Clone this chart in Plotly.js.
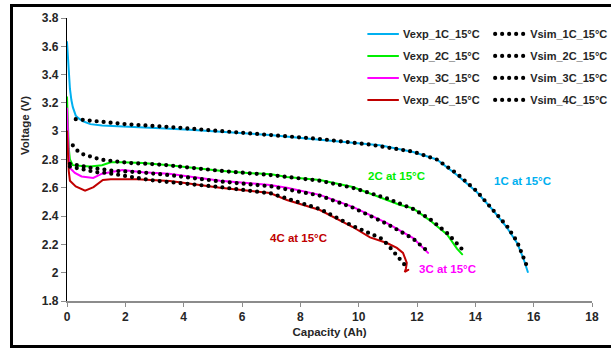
<!DOCTYPE html>
<html>
<head>
<meta charset="utf-8">
<script src="https://cdn.plot.ly/plotly-3.0.1.min.js"></script>
<style>
  html, body { margin: 0; padding: 0; background: #fff; overflow: hidden; }
  #wrap { position: relative; width: 611px; height: 348px; overflow: hidden; }
  #chart { position: absolute; left: 0; top: 0; width: 640px; height: 348px; }
  #frame { position: absolute; left: 10px; top: 4px; width: 640px; height: 338px; border: 3px solid #000; pointer-events: none; }
  .simdots path.js-line { stroke-linecap: round; }
</style>
</head>
<body>
<div id="wrap">
  <div id="chart"></div>
  <div id="frame"></div>
</div>
<script>
// Experimental curves (Capacity Ah, Voltage V)
const cap1 = [0, 0.03, 0.06, 0.1, 0.15, 0.2, 0.3, 0.4, 0.55, 0.8, 1.2, 2, 3.2, 4.2, 5.25, 6.96, 8.67, 10, 10.73, 11.87, 12.68, 13.37, 14.05, 14.6, 15.08, 15.43, 15.65, 15.8];
const v1   = [3.63, 3.5, 3.4, 3.3, 3.22, 3.17, 3.11, 3.09, 3.07, 3.05, 3.04, 3.03, 3.02, 3.01, 2.995, 2.973, 2.94, 2.915, 2.90, 2.853, 2.80, 2.69, 2.57, 2.443, 2.32, 2.21, 2.10, 2.005];

const cap2 = [0, 0.03, 0.06, 0.1, 0.2, 0.4, 0.8, 1.2, 1.5, 1.9, 2.6, 3.5, 4.3, 5.25, 6.2, 7.0, 7.54, 8.67, 9.8, 10.73, 11.4, 11.87, 12.44, 13.03, 13.37, 13.55];
const v2   = [3.24, 3.0, 2.88, 2.8, 2.76, 2.755, 2.75, 2.76, 2.78, 2.78, 2.775, 2.76, 2.74, 2.72, 2.705, 2.695, 2.676, 2.655, 2.606, 2.535, 2.48, 2.455, 2.37, 2.27, 2.17, 2.13];

const cap3 = [0, 0.03, 0.06, 0.1, 0.27, 0.5, 0.9, 1.2, 1.6, 1.9, 2.6, 3.5, 5.25, 6.96, 7.54, 8.67, 9.8, 10.97, 11.87, 12.1, 12.38];
const v3   = [3.16, 2.95, 2.82, 2.74, 2.705, 2.68, 2.67, 2.70, 2.715, 2.725, 2.71, 2.70, 2.65, 2.62, 2.60, 2.55, 2.465, 2.35, 2.245, 2.2, 2.14];

const cap4 = [0, 0.03, 0.06, 0.1, 0.3, 0.62, 0.91, 1.23, 1.5, 2.4, 3.53, 5.25, 6.96, 7.54, 8.67, 9.8, 10.39, 10.97, 11.31, 11.52, 11.65, 11.62, 11.58, 11.7];
const v4   = [3.0, 2.85, 2.72, 2.65, 2.61, 2.58, 2.605, 2.655, 2.66, 2.66, 2.648, 2.60, 2.563, 2.514, 2.443, 2.323, 2.25, 2.21, 2.175, 2.14, 2.07, 2.03, 2.005, 2.02];

// Simulated curves
const capS1 = [0.3, 1, 2, 3.5, 5, 7, 8.67, 10.4, 11.87, 12.68, 13.37, 14.05, 14.6, 15.08, 15.43, 15.65, 15.78];
const vS1   = [3.085, 3.07, 3.05, 3.03, 3.005, 2.975, 2.945, 2.905, 2.855, 2.80, 2.70, 2.575, 2.45, 2.33, 2.22, 2.11, 2.04];

const capS2 = [0.2, 0.39, 0.62, 0.85, 1.13, 1.47, 2.16, 2.74, 3.43, 5.25, 7, 8.67, 9.8, 10.97, 11.87, 12.44, 13.03, 13.4, 13.57];
const vS2   = [2.90, 2.855, 2.83, 2.82, 2.80, 2.79, 2.775, 2.77, 2.76, 2.72, 2.69, 2.65, 2.60, 2.525, 2.45, 2.38, 2.28, 2.2, 2.16];

const capS3 = [0.1, 0.5, 0.85, 1.6, 2.5, 3.5, 5.25, 7, 8.67, 9.8, 10.97, 11.87, 12.37];
const vS3   = [2.77, 2.75, 2.74, 2.72, 2.71, 2.69, 2.645, 2.61, 2.545, 2.46, 2.345, 2.24, 2.15];

const capS4 = [0.1, 0.5, 1, 1.37, 2.16, 2.85, 3.53, 5.25, 7, 8.67, 9.8, 10.5, 10.8, 11.07, 11.42, 11.6, 11.65];
const vS4   = [2.75, 2.73, 2.71, 2.705, 2.676, 2.655, 2.64, 2.605, 2.56, 2.45, 2.33, 2.27, 2.24, 2.18, 2.10, 2.05, 2.08];

const expNames = ['Vexp_1C_15°C', 'Vexp_2C_15°C', 'Vexp_3C_15°C', 'Vexp_4C_15°C'];
const simNames = ['Vsim_1C_15°C', 'Vsim_2C_15°C', 'Vsim_3C_15°C', 'Vsim_4C_15°C'];
const colors = ['#00b0f0', '#00ee00', '#ff00ff', '#c00000'];
const labels = ['1C at 15°C', '2C at 15°C', '3C at 15°C', '4C at 15°C'];
const labelX = [15.63, 11.31, 13.06, 7.92];
const labelY = [2.648, 2.683, 2.026, 2.247];

const expX = [cap1, cap2, cap3, cap4], expY = [v1, v2, v3, v4];
const simX = [capS1, capS2, capS3, capS4], simY = [vS1, vS2, vS3, vS4];

const FONT = 'Liberation Sans, Arial, sans-serif';
const traces = [];
for (let i = 0; i < 4; i++) {
  traces.push({
    x: expX[i], y: expY[i], type: 'scatter', mode: 'lines', name: expNames[i],
    line: { color: colors[i], width: 2 }, legend: 'legend', legendgroup: 'e' + i
  });
}
for (let i = 0; i < 4; i++) {
  traces.push({
    x: simX[i], y: simY[i], type: 'scatter', mode: 'lines', name: simNames[i],
    line: { color: '#000', width: 4.2, dash: '0px,7px' }, legend: 'legend2', legendgroup: 's' + i
  });
}

const annotations = labels.map((t, i) => ({
  x: labelX[i], y: labelY[i], xref: 'x', yref: 'y', text: t, showarrow: false,
  font: { family: FONT, size: 11.5, color: colors[i], weight: 'bold' }
}));
annotations.push({
  x: -0.08, y: 0.618, xref: 'paper', yref: 'paper', text: 'Voltage (V)', textangle: -90,
  showarrow: false, xanchor: 'center', yanchor: 'middle',
  font: { family: FONT, size: 11.5, color: '#262626', weight: 'bold' }
});

const legendCommon = {
  xanchor: 'left', yanchor: 'top', bgcolor: 'rgba(0,0,0,0)',
  font: { family: FONT, size: 11, color: '#262626', weight: 'bold' },
  tracegroupgap: 3, itemwidth: 30, itemclick: false
};

const layout = {
  width: 640, height: 348,
  margin: { l: 67, r: 48, t: 18, b: 47 },
  paper_bgcolor: '#fff', plot_bgcolor: '#fff',
  showlegend: true,
  legend: Object.assign({ x: 0.564, y: 0.995 }, legendCommon),
  legend2: Object.assign({ x: 0.806, y: 0.995 }, legendCommon),
  xaxis: {
    range: [0, 18], dtick: 2, tick0: 0, showgrid: false, zeroline: false,
    showline: true, linecolor: '#8c8c8c', linewidth: 1.5,
    ticks: 'outside', ticklen: 4, tickcolor: '#8c8c8c',
    tickfont: { family: FONT, size: 12, color: '#262626', weight: 'bold' },
    title: { text: 'Capacity (Ah)', standoff: 5, font: { family: FONT, size: 11.5, color: '#262626', weight: 'bold' } }
  },
  yaxis: {
    range: [1.8, 3.8], dtick: 0.2, tick0: 1.8, showgrid: false, zeroline: false,
    showline: true, linecolor: '#000', linewidth: 1.2,
    ticks: 'outside', ticklen: 5, tickcolor: '#8c8c8c',
    tickfont: { family: FONT, size: 12, color: '#262626', weight: 'bold' }
  },
  annotations: annotations
};

Plotly.newPlot('chart', traces, layout, { displayModeBar: false, staticPlot: true }).then(() => {
  document.getElementById('chart').classList.add('simdots');
});
</script>
</body>
</html>
